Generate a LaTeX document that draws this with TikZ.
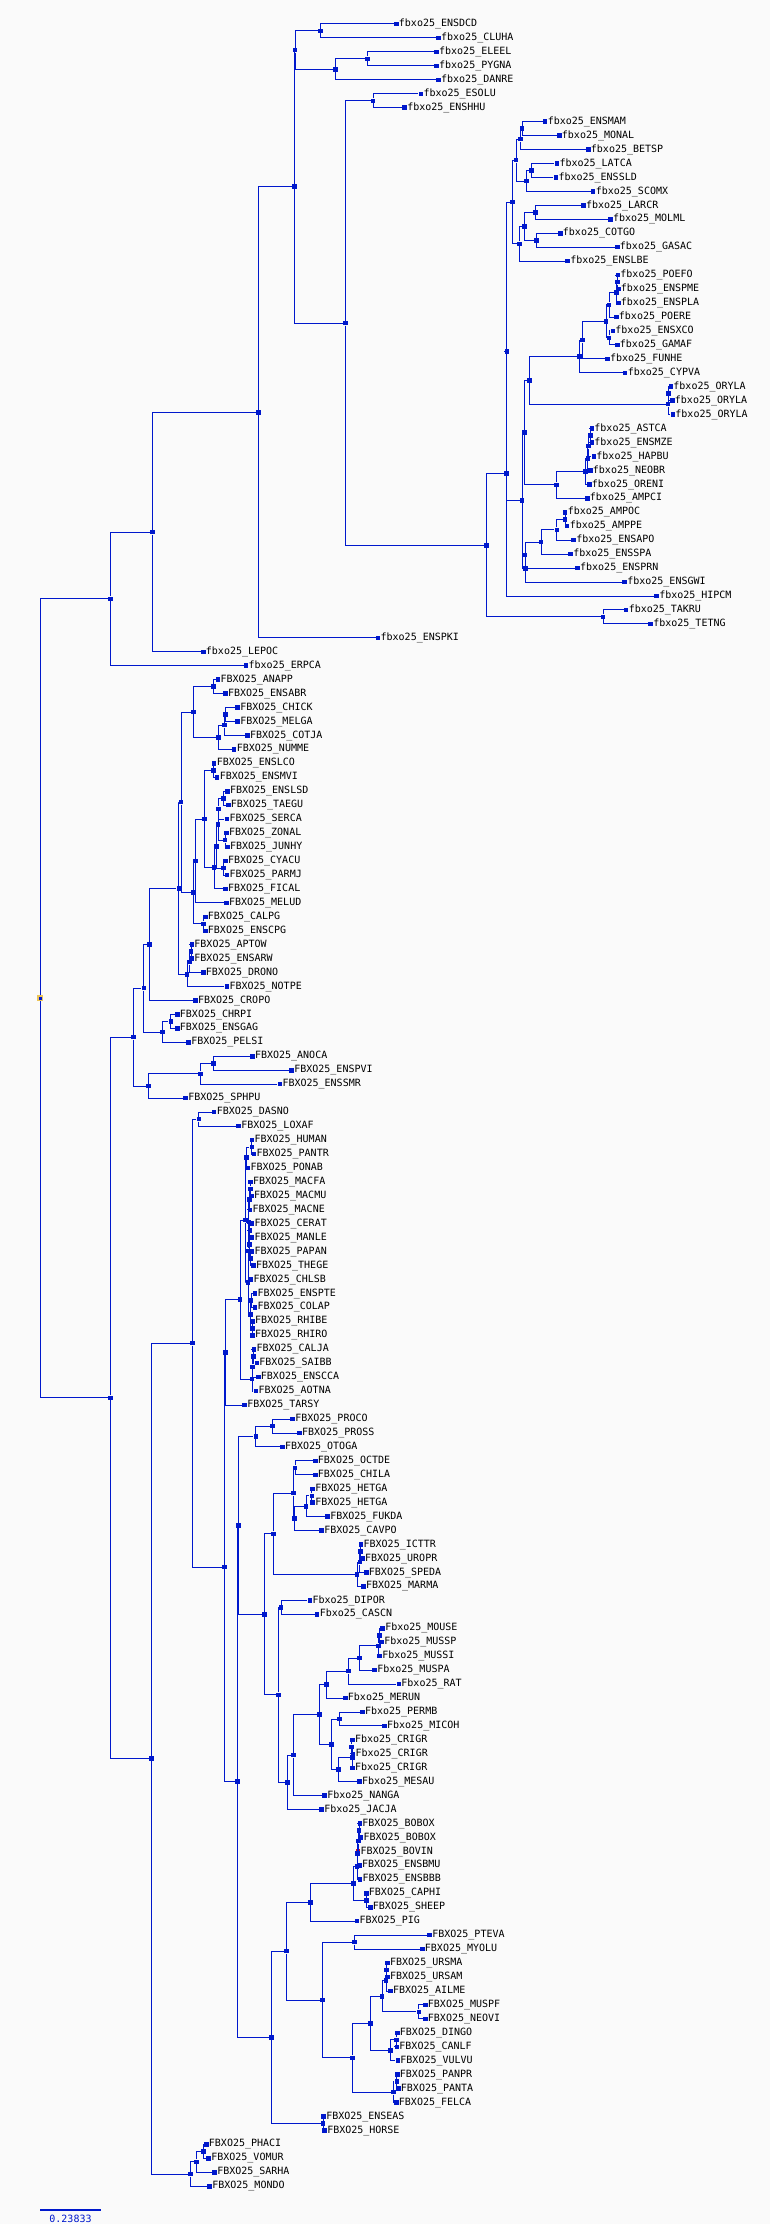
\documentclass[tikz,border=0pt]{standalone}
\usepackage{fontspec}
\usepackage{tikz}
\newfontfamily\tipfont{DejaVu Sans Mono}
\definecolor{treeblue}{RGB}{0,24,204}
\definecolor{paper}{RGB}{250,250,250}
\definecolor{rootgold}{RGB}{236,196,88}
\definecolor{hitred}{RGB}{240,10,10}
\tikzstyle{vertex}=[rectangle, fill=treeblue, inner sep=0pt, minimum size=4.5pt]
\tikzstyle{tipnode}=[vertex, label distance=4.5pt]
\tikzstyle{branch}=[draw=treeblue, line width=1pt, to path={|- (\tikztotarget) \tikztonodes}]
\newcommand{\vertex}{\node[vertex]}
\newcommand{\tipnode}{\node[tipnode]}

\begin{document}
\begin{tikzpicture}[x=1pt, y=-1pt, every edge/.style=branch,
    every label/.style={font=\tipfont, inner sep=0pt}]
\fill[paper] (0,0) rectangle (770,2224);
\useasboundingbox (0,0) rectangle (770,2224);

% fish and early branches
\tipnode (ensdcd) at (396.3,24.0) [label=right:fbxo25\_ENSDCD]{};
\tipnode (cluha) at (438.5,38.0) [label=right:fbxo25\_CLUHA]{};
\tipnode (eleel) at (436.5,51.9) [label=right:fbxo25\_ELEEL]{};
\tipnode (pygna) at (436.5,65.9) [label=right:fbxo25\_PYGNA]{};
\tipnode (danre) at (438.5,79.8) [label=right:fbxo25\_DANRE]{};
\tipnode (esolu) at (420.9,93.8) [label=right:fbxo25\_ESOLU]{};
\tipnode (enshhu) at (404.6,107.7) [label=right:fbxo25\_ENSHHU]{};
\tipnode (ensmam) at (545.1,121.7) [label=right:fbxo25\_ENSMAM]{};
\tipnode (monal) at (559.3,135.6) [label=right:fbxo25\_MONAL]{};
\tipnode (betsp) at (588.3,149.6) [label=right:fbxo25\_BETSP]{};
\tipnode (latca) at (556.9,163.5) [label=right:fbxo25\_LATCA]{};
\tipnode (enssld) at (555.9,177.5) [label=right:fbxo25\_ENSSLD]{};
\tipnode (scomx) at (593.2,191.4) [label=right:fbxo25\_SCOMX]{};
\tipnode (larcr) at (583.4,205.4) [label=right:fbxo25\_LARCR]{};
\tipnode (molml) at (610.4,219.3) [label=right:fbxo25\_MOLML]{};
\tipnode (cotgo) at (560.3,233.3) [label=right:fbxo25\_COTGO]{};
\tipnode (gasac) at (617.3,247.2) [label=right:fbxo25\_GASAC]{};
\tipnode (enslbe) at (567.7,261.2) [label=right:fbxo25\_ENSLBE]{};
\tipnode (poefo) at (617.8,275.1) [label=right:fbxo25\_POEFO]{};
\tipnode (enspme) at (618.3,289.1) [label=right:fbxo25\_ENSPME]{};
\tipnode (enspla) at (618.3,303.0) [label=right:fbxo25\_ENSPLA]{};
\tipnode (poere) at (616.3,317.0) [label=right:fbxo25\_POERE]{};
\tipnode (ensxco) at (612.8,330.9) [label=right:fbxo25\_ENSXCO]{};
\tipnode (gamaf) at (617.3,344.9) [label=right:fbxo25\_GAMAF]{};
\tipnode (funhe) at (607.5,358.8) [label=right:fbxo25\_FUNHE]{};
\tipnode (cypva) at (625.2,372.8) [label=right:fbxo25\_CYPVA]{};
\tipnode (oryla1) at (670.8,386.7) [label=right:fbxo25\_ORYLA]{};
\tipnode (oryla2) at (672.3,400.7) [label=right:fbxo25\_ORYLA]{};
\tipnode (oryla3) at (672.8,414.6) [label=right:fbxo25\_ORYLA]{};
\tipnode (astca) at (591.8,428.6) [label=right:fbxo25\_ASTCA]{};
\tipnode (ensmze) at (591.8,442.5) [label=right:fbxo25\_ENSMZE]{};
\tipnode (hapbu) at (593.8,456.5) [label=right:fbxo25\_HAPBU]{};
\tipnode (neobr) at (590.3,470.4) [label=right:fbxo25\_NEOBR]{};
\tipnode (oreni) at (589.3,484.4) [label=right:fbxo25\_ORENI]{};
\tipnode (ampci) at (587.3,498.3) [label=right:fbxo25\_AMPCI]{};
\tipnode (ampoc) at (565.2,512.3) [label=right:fbxo25\_AMPOC]{};
\tipnode (amppe) at (567.2,526.2) [label=right:fbxo25\_AMPPE]{};
\tipnode (ensapo) at (573.6,540.2) [label=right:fbxo25\_ENSAPO]{};
\tipnode (ensspa) at (570.6,554.1) [label=right:fbxo25\_ENSSPA]{};
\tipnode (ensprn) at (577.5,568.1) [label=right:fbxo25\_ENSPRN]{};
\tipnode (ensgwi) at (624.7,582.0) [label=right:fbxo25\_ENSGWI]{};
\tipnode (hipcm) at (656.6,596.0) [label=right:fbxo25\_HIPCM]{};
\tipnode (takru) at (626.1,609.9) [label=right:fbxo25\_TAKRU]{};
\tipnode (tetng) at (650.7,623.9) [label=right:fbxo25\_TETNG]{};
\tipnode (enspki) at (378.0,637.8) [label=right:fbxo25\_ENSPKI]{};
\tipnode (lepoc) at (203.3,651.8) [label=right:fbxo25\_LEPOC]{};
\tipnode (erpca) at (246.0,665.7) [label=right:fbxo25\_ERPCA]{};

\vertex (a1) at (320.7,31.0) {};
\vertex (a3) at (367.3,58.9) {};
\vertex (a2) at (335.4,69.4) {};
\vertex (p1) at (295.1,50.2) {};
\vertex (b1) at (373.2,100.8) {};
\vertex (e2) at (522.0,128.7) {};
\vertex (e1) at (520.5,139.2) {};
\vertex (e4) at (531.4,170.5) {};
\vertex (e3) at (526.5,181.0) {};
\vertex (d2) at (516.1,160.1) {};
\vertex (f2) at (535.3,212.4) {};
\vertex (f3) at (536.3,240.3) {};
\vertex (f1) at (524.5,226.4) {};
\vertex (d3) at (519.6,243.8) {};
\vertex (d1) at (512.7,202.0) {};
\vertex (n7) at (617.3,282.1) {};
\vertex (n6) at (616.3,292.6) {};
\vertex (n4) at (609.0,304.8) {};
\vertex (n5) at (609.0,337.9) {};
\vertex (n3) at (606.0,321.4) {};
\vertex (n2) at (582.5,340.1) {};
\vertex (n1) at (579.5,356.5) {};
\vertex (o2) at (668.6,393.7) {};
\vertex (o1) at (668.0,404.2) {};
\vertex (k1) at (529.4,380.4) {};
\vertex (m4) at (590.3,435.6) {};
\vertex (m3) at (588.3,446.1) {};
\vertex (m2) at (587.8,458.3) {};
\vertex (m1) at (585.3,471.4) {};
\vertex (k2) at (556.4,484.9) {};
\vertex (g1) at (524.5,432.7) {};
\vertex (h0) at (565.2,519.3) {};
\vertex (h1a) at (556.9,529.8) {};
\vertex (h1) at (541.2,542.0) {};
\vertex (h2) at (525.0,555.1) {};
\vertex (h3) at (525.5,568.6) {};
\vertex (d4) at (522.0,500.7) {};
\vertex (c) at (506.8,351.4) {};
\vertex (b3) at (506.3,473.7) {};
\vertex (tt) at (603.0,616.9) {};
\vertex (b2) at (486.6,545.3) {};
\vertex (B) at (345.3,323.1) {};
\vertex (p0) at (294.6,186.7) {};
\vertex (q) at (258.3,412.3) {};
\vertex (r) at (152.7,532.1) {};
\vertex (s) at (110.5,598.9) {};

% sauropsids
\tipnode (anapp) at (218.0,679.7) [label=right:FBXO25\_ANAPP]{};
\tipnode (ensabr) at (225.4,693.6) [label=right:FBXO25\_ENSABR]{};
\tipnode (chick) at (237.7,707.6) [label=right:FBXO25\_CHICK]{};
\tipnode (melga) at (237.7,721.5) [label=right:FBXO25\_MELGA]{};
\tipnode (cotja) at (247.5,735.5) [label=right:FBXO25\_COTJA]{};
\tipnode (numme) at (234.2,749.4) [label=right:FBXO25\_NUMME]{};
\tipnode (enslco) at (214.1,763.4) [label=right:FBXO25\_ENSLCO]{};
\tipnode (ensmvi) at (217.1,777.3) [label=right:FBXO25\_ENSMVI]{};
\tipnode (enslsd) at (227.4,791.3) [label=right:FBXO25\_ENSLSD]{};
\tipnode (taegu) at (228.3,805.2) [label=right:FBXO25\_TAEGU]{};
\tipnode (serca) at (226.9,819.2) [label=right:FBXO25\_SERCA]{};
\tipnode (zonal) at (226.4,833.1) [label=right:FBXO25\_ZONAL]{};
\tipnode (junhy) at (227.4,847.1) [label=right:FBXO25\_JUNHY]{};
\tipnode (cyacu) at (225.4,861.0) [label=right:FBXO25\_CYACU]{};
\tipnode (parmj) at (226.9,875.0) [label=right:FBXO25\_PARMJ]{};
\tipnode (fical) at (225.4,888.9) [label=right:FBXO25\_FICAL]{};
\tipnode (melud) at (226.4,902.9) [label=right:FBXO25\_MELUD]{};
\tipnode (calpg) at (205.3,916.8) [label=right:FBXO25\_CALPG]{};
\tipnode (enscpg) at (205.3,930.8) [label=right:FBXO25\_ENSCPG]{};
\tipnode (aptow) at (191.8,944.7) [label=right:FBXO25\_APTOW]{};
\tipnode (ensarw) at (191.8,958.7) [label=right:FBXO25\_ENSARW]{};
\tipnode (drono) at (203.3,972.6) [label=right:FBXO25\_DRONO]{};
\tipnode (notpe) at (226.9,986.6) [label=right:FBXO25\_NOTPE]{};
\tipnode (cropo) at (195.4,1000.5) [label=right:FBXO25\_CROPO]{};
\tipnode (chrpi) at (177.3,1014.5) [label=right:FBXO25\_CHRPI]{};
\tipnode (ensgag) at (177.3,1028.4) [label=right:FBXO25\_ENSGAG]{};
\tipnode (pelsi) at (188.6,1042.4) [label=right:FBXO25\_PELSI]{};
\tipnode (anoca) at (252.4,1056.3) [label=right:FBXO25\_ANOCA]{};
\tipnode (enspvi) at (291.7,1070.3) [label=right:FBXO25\_ENSPVI]{};
\tipnode (enssmr) at (279.9,1084.2) [label=right:FBXO25\_ENSSMR]{};
\tipnode (sphpu) at (185.6,1098.2) [label=right:FBXO25\_SPHPU]{};

\vertex (bA) at (213.6,686.7) {};
\vertex (bC) at (225.4,714.6) {};
\vertex (bD) at (224.4,725.1) {};
\vertex (bE) at (218.5,737.3) {};
\vertex (bG1) at (193.5,712.0) {};
\vertex (bF) at (213.6,770.4) {};
\vertex (bH) at (223.5,798.3) {};
\vertex (bI) at (218.5,808.8) {};
\vertex (bJ) at (225.0,840.1) {};
\vertex (bK) at (218.0,824.5) {};
\vertex (bL) at (223.5,868.0) {};
\vertex (bM) at (216.6,846.3) {};
\vertex (bN) at (214.1,867.6) {};
\vertex (bO) at (204.3,819.0) {};
\vertex (bP) at (195.5,861.0) {};
\vertex (bQ) at (203.3,923.8) {};
\vertex (bG2) at (193.5,892.4) {};
\vertex (b1n) at (181.2,802.2) {};
\vertex (bR) at (191.0,951.7) {};
\vertex (bS) at (189.6,962.2) {};
\vertex (bT) at (187.1,974.4) {};
\vertex (b0n) at (178.8,888.3) {};
\vertex (bU) at (149.3,944.4) {};
\vertex (tu1) at (170.9,1021.5) {};
\vertex (tu2) at (162.5,1032.0) {};
\vertex (arch) at (143.9,988.2) {};
\vertex (sq1) at (213.6,1063.3) {};
\vertex (sq2) at (200.4,1073.8) {};
\vertex (sq3) at (148.3,1086.0) {};
\vertex (saur) at (133.6,1037.1) {};

% mammals
\tipnode (dasno) at (214.1,1112.1) [label=right:FBXO25\_DASNO]{};
\tipnode (loxaf) at (238.7,1126.1) [label=right:FBXO25\_LOXAF]{};
\tipnode (human) at (251.9,1140.0) [label=right:FBXO25\_HUMAN]{};
\tipnode (pantr) at (253.9,1154.0) [label=right:FBXO25\_PANTR]{};
\tipnode (ponab) at (248.0,1167.9) [label=right:FBXO25\_PONAB]{};
\tipnode (macfa) at (250.4,1181.9) [label=right:FBXO25\_MACFA]{};
\tipnode (macmu) at (251.4,1195.8) [label=right:FBXO25\_MACMU]{};
\tipnode (macne) at (249.9,1209.8) [label=right:FBXO25\_MACNE]{};
\tipnode (cerat) at (251.9,1223.7) [label=right:FBXO25\_CERAT]{};
\tipnode (manle) at (251.9,1237.7) [label=right:FBXO25\_MANLE]{};
\tipnode (papan) at (251.9,1251.6) [label=right:FBXO25\_PAPAN]{};
\tipnode (thege) at (253.4,1265.6) [label=right:FBXO25\_THEGE]{};
\tipnode (chlsb) at (251.0,1279.5) [label=right:FBXO25\_CHLSB]{};
\tipnode (enspte) at (255.0,1293.5) [label=right:FBXO25\_ENSPTE]{};
\tipnode (colap) at (255.0,1307.4) [label=right:FBXO25\_COLAP]{};
\tipnode (rhibe) at (252.5,1321.4) [label=right:FBXO25\_RHIBE]{};
\tipnode (rhiro) at (252.5,1335.3) [label=right:FBXO25\_RHIRO]{};
\tipnode (calja) at (253.9,1349.3) [label=right:FBXO25\_CALJA]{};
\tipnode (saibb) at (256.8,1363.2) [label=right:FBXO25\_SAIBB]{};
\tipnode (ensscca) at (258.3,1377.2) [label=right:FBXO25\_ENSCCA]{};
\tipnode (aotna) at (255.9,1391.1) [label=right:FBXO25\_AOTNA]{};
\tipnode (tarsy) at (244.6,1405.1) [label=right:FBXO25\_TARSY]{};
\tipnode (proco) at (292.7,1419.0) [label=right:FBXO25\_PROCO]{};
\tipnode (pross) at (299.5,1433.0) [label=right:FBXO25\_PROSS]{};
\tipnode (otoga) at (282.4,1446.9) [label=right:FBXO25\_OTOGA]{};
\tipnode (octde) at (315.3,1460.9) [label=right:FBXO25\_OCTDE]{};
\tipnode (chila) at (315.3,1474.8) [label=right:FBXO25\_CHILA]{};
\tipnode (hetga1) at (312.6,1488.8) [label=right:FBXO25\_HETGA]{};
\tipnode (hetga2) at (312.6,1502.7) [label=right:FBXO25\_HETGA]{};
\tipnode (fukda) at (327.6,1516.7) [label=right:FBXO25\_FUKDA]{};
\tipnode (cavpo) at (321.7,1530.6) [label=right:FBXO25\_CAVPO]{};
\tipnode (icttr) at (361.0,1544.6) [label=right:FBXO25\_ICTTR]{};
\tipnode (uropr) at (362.4,1558.5) [label=right:FBXO25\_UROPR]{};
\tipnode (speda) at (366.3,1572.5) [label=right:FBXO25\_SPEDA]{};
\tipnode (marma) at (363.4,1586.4) [label=right:FBXO25\_MARMA]{};
\tipnode (dipor) at (309.9,1600.4) [label=right:Fbxo25\_DIPOR]{};
\tipnode (cascn) at (317.2,1614.3) [label=right:Fbxo25\_CASCN]{};
\tipnode (mouse) at (382.6,1628.3) [label=right:Fbxo25\_MOUSE]{};
\tipnode (mussp) at (381.6,1642.2) [label=right:Fbxo25\_MUSSP]{};
\tipnode (mussi) at (379.6,1656.2) [label=right:Fbxo25\_MUSSI]{};
\tipnode (muspa) at (374.7,1670.1) [label=right:Fbxo25\_MUSPA]{};
\tipnode (rat) at (398.8,1684.1) [label=right:Fbxo25\_RAT]{};
\tipnode (merun) at (345.3,1698.0) [label=right:Fbxo25\_MERUN]{};
\tipnode (permb) at (362.4,1712.0) [label=right:Fbxo25\_PERMB]{};
\tipnode (micoh) at (384.5,1725.9) [label=right:Fbxo25\_MICOH]{};
\tipnode (crigr1) at (352.4,1739.9) [label=right:Fbxo25\_CRIGR]{};
\tipnode (crigr2) at (352.9,1753.8) [label=right:Fbxo25\_CRIGR]{};
\tipnode (crigr3) at (352.4,1767.8) [label=right:Fbxo25\_CRIGR]{};
\tipnode (mesau) at (359.5,1781.7) [label=right:Fbxo25\_MESAU]{};
\tipnode (nanga) at (324.6,1795.7) [label=right:Fbxo25\_NANGA]{};
\tipnode (jacja) at (321.7,1809.6) [label=right:Fbxo25\_JACJA]{};
\tipnode (bobox1) at (359.8,1823.6) [label=right:FBXO25\_BOBOX]{};
\tipnode (bobox2) at (361.0,1837.5) [label=right:FBXO25\_BOBOX]{};
\tipnode (bovin) at (358.0,1851.5) [fill=hitred, label=right:FBXO25\_BOVIN]{};
\tipnode (ensbmu) at (359.5,1865.4) [label=right:FBXO25\_ENSBMU]{};
\tipnode (ensbbb) at (360.0,1879.4) [label=right:FBXO25\_ENSBBB]{};
\tipnode (caphi) at (366.3,1893.3) [label=right:FBXO25\_CAPHI]{};
\tipnode (sheep) at (370.3,1907.3) [label=right:FBXO25\_SHEEP]{};
\tipnode (pig) at (357.0,1921.2) [label=right:FBXO25\_PIG]{};
\tipnode (pteva) at (429.7,1935.2) [label=right:FBXO25\_PTEVA]{};
\tipnode (myolu) at (422.3,1949.1) [label=right:FBXO25\_MYOLU]{};
\tipnode (ursma) at (387.5,1963.1) [label=right:FBXO25\_URSMA]{};
\tipnode (ursam) at (387.5,1977.0) [label=right:FBXO25\_URSAM]{};
\tipnode (ailme) at (390.4,1991.0) [label=right:FBXO25\_AILME]{};
\tipnode (muspf) at (425.3,2004.9) [label=right:FBXO25\_MUSPF]{};
\tipnode (neovi) at (425.3,2018.9) [label=right:FBXO25\_NEOVI]{};
\tipnode (dingo) at (397.3,2032.8) [label=right:FBXO25\_DINGO]{};
\tipnode (canlf) at (396.8,2046.8) [label=right:FBXO25\_CANLF]{};
\tipnode (vulvu) at (397.8,2060.7) [label=right:FBXO25\_VULVU]{};
\tipnode (panpr) at (397.3,2074.7) [label=right:FBXO25\_PANPR]{};
\tipnode (panta) at (398.3,2088.6) [label=right:FBXO25\_PANTA]{};
\tipnode (felca) at (396.3,2102.6) [label=right:FBXO25\_FELCA]{};
\tipnode (enseas) at (323.6,2116.5) [label=right:FBXO25\_ENSEAS]{};
\tipnode (horse) at (324.6,2130.5) [label=right:FBXO25\_HORSE]{};
\tipnode (phaci) at (206.3,2144.4) [label=right:FBXO25\_PHACI]{};
\tipnode (vomur) at (208.7,2158.4) [label=right:FBXO25\_VOMUR]{};
\tipnode (sarha) at (214.6,2172.3) [label=right:FBXO25\_SARHA]{};
\tipnode (mondo) at (209.7,2186.3) [label=right:FBXO25\_MONDO]{};

\vertex (afro) at (198.9,1119.1) {};
\vertex (hp) at (251.9,1147.0) {};
\vertex (hom) at (246.5,1157.5) {};
\vertex (mcq) at (250.4,1188.9) {};
\vertex (mac) at (249.4,1199.4) {};
\vertex (cema) at (249.9,1230.7) {};
\vertex (pth) at (250.4,1258.6) {};
\vertex (cmpt) at (249.4,1244.7) {};
\vertex (pap) at (248.9,1222.1) {};
\vertex (cerc) at (248.4,1250.8) {};
\vertex (colA) at (251.0,1300.5) {};
\vertex (colB) at (252.5,1328.4) {};
\vertex (col) at (250.5,1314.5) {};
\vertex (owm) at (248.0,1282.7) {};
\vertex (cat) at (245.6,1220.1) {};
\vertex (nw1) at (253.4,1356.3) {};
\vertex (nw2) at (252.4,1366.8) {};
\vertex (nwm) at (252.0,1379.0) {};
\vertex (prim) at (240.2,1299.6) {};
\vertex (primt) at (225.4,1352.4) {};
\vertex (st1) at (272.6,1426.0) {};
\vertex (st2) at (255.9,1436.5) {};
\vertex (hy1) at (295.2,1467.9) {};
\vertex (hy2) at (311.8,1495.8) {};
\vertex (hy3) at (306.0,1506.3) {};
\vertex (hy4) at (294.7,1518.5) {};
\vertex (hy5) at (293.7,1493.2) {};
\vertex (sc1) at (360.4,1551.6) {};
\vertex (sc2) at (359.9,1562.1) {};
\vertex (sc3) at (357.0,1574.3) {};
\vertex (gu) at (273.5,1533.8) {};
\vertex (ca1) at (281.0,1607.4) {};
\vertex (mu1) at (379.3,1635.3) {};
\vertex (mu2) at (378.6,1645.8) {};
\vertex (mu3) at (359.5,1658.0) {};
\vertex (mu4) at (348.7,1671.1) {};
\vertex (mu5) at (326.6,1684.6) {};
\vertex (cr1) at (339.3,1719.0) {};
\vertex (cr2) at (351.7,1746.9) {};
\vertex (cr3) at (352.6,1757.4) {};
\vertex (cr4) at (338.3,1769.6) {};
\vertex (cr5) at (331.5,1744.3) {};
\vertex (mr1) at (319.7,1714.5) {};
\vertex (mr2) at (293.7,1755.1) {};
\vertex (mr3) at (287.3,1782.4) {};
\vertex (gd) at (278.4,1694.9) {};
\vertex (gl) at (264.7,1614.4) {};
\vertex (ea) at (238.7,1525.5) {};
\vertex (bo1) at (359.1,1830.6) {};
\vertex (bo2) at (358.6,1841.1) {};
\vertex (bo3) at (357.5,1853.3) {};
\vertex (bo4) at (357.0,1866.4) {};
\vertex (ov) at (366.3,1900.3) {};
\vertex (ru) at (353.6,1883.4) {};
\vertex (ce) at (310.4,1902.3) {};
\vertex (ch) at (354.6,1942.2) {};
\vertex (ur1) at (386.5,1970.1) {};
\vertex (ur2) at (386.0,1980.6) {};
\vertex (mt) at (418.9,2011.9) {};
\vertex (ar) at (382.1,1996.3) {};
\vertex (cn1) at (396.3,2039.8) {};
\vertex (cn2) at (390.4,2050.3) {};
\vertex (cf) at (370.3,2023.3) {};
\vertex (fe1) at (396.8,2081.7) {};
\vertex (fe2) at (393.3,2092.2) {};
\vertex (carn) at (352.6,2057.8) {};
\vertex (sc) at (322.6,2000.0) {};
\vertex (la1) at (286.3,1951.2) {};
\vertex (eq) at (323.1,2123.5) {};
\vertex (lau) at (271.6,2037.4) {};
\vertex (bor2) at (237.7,1781.5) {};
\vertex (bor) at (224.4,1567.0) {};
\vertex (eu) at (192.5,1343.1) {};
\vertex (ma1) at (203.3,2151.4) {};
\vertex (ma2) at (196.5,2161.9) {};
\vertex (mar) at (190.6,2174.1) {};
\vertex (mam) at (151.3,1758.6) {};
\vertex (amn) at (110.5,1397.9) {};
\vertex (root) at (40.3,998.4) [draw=rootgold, line width=1.6pt]{};

\path
    (root) edge (s)
    (root) edge (amn)
    (s) edge (r)
    (s) edge (erpca)
    (r) edge (q)
    (r) edge (lepoc)
    (q) edge (p0)
    (q) edge (enspki)
    (p0) edge (p1)
    (p0) edge (B)
    (p1) edge (a1)
    (p1) edge (a2)
    (a1) edge (ensdcd)
    (a1) edge (cluha)
    (a2) edge (a3)
    (a2) edge (danre)
    (a3) edge (eleel)
    (a3) edge (pygna)
    (B) edge (b1)
    (B) edge (b2)
    (b1) edge (esolu)
    (b1) edge (enshhu)
    (b2) edge (b3)
    (b2) edge (tt)
    (tt) edge (takru)
    (tt) edge (tetng)
    (b3) edge (c)
    (b3) edge (hipcm)
    (c) edge (d1)
    (c) edge (d4)
    (d1) edge (d2)
    (d1) edge (d3)
    (d2) edge (e1)
    (d2) edge (e3)
    (e1) edge (e2)
    (e1) edge (betsp)
    (e2) edge (ensmam)
    (e2) edge (monal)
    (e3) edge (e4)
    (e3) edge (scomx)
    (e4) edge (latca)
    (e4) edge (enssld)
    (d3) edge (f1)
    (d3) edge (enslbe)
    (f1) edge (f2)
    (f1) edge (f3)
    (f2) edge (larcr)
    (f2) edge (molml)
    (f3) edge (cotgo)
    (f3) edge (gasac)
    (d4) edge (g1)
    (d4) edge (h3)
    (g1) edge (k1)
    (g1) edge (k2)
    (k1) edge (n1)
    (k1) edge (o1)
    (n1) edge (n2)
    (n1) edge (cypva)
    (n2) edge (n3)
    (n2) edge (funhe)
    (n3) edge (n4)
    (n3) edge (n5)
    (n4) edge (n6)
    (n4) edge (poere)
    (n6) edge (n7)
    (n6) edge (enspla)
    (n7) edge (poefo)
    (n7) edge (enspme)
    (n5) edge (ensxco)
    (n5) edge (gamaf)
    (o1) edge (o2)
    (o1) edge (oryla3)
    (o2) edge (oryla1)
    (o2) edge (oryla2)
    (k2) edge (m1)
    (k2) edge (ampci)
    (m1) edge (m2)
    (m1) edge (oreni)
    (m2) edge (m3)
    (m2) edge (neobr)
    (m3) edge (m4)
    (m3) edge (hapbu)
    (m4) edge (astca)
    (m4) edge (ensmze)
    (h3) edge (h2)
    (h3) edge (ensgwi)
    (h2) edge (h1)
    (h2) edge (ensprn)
    (h1) edge (h1a)
    (h1) edge (ensspa)
    (h1a) edge (h0)
    (h1a) edge (ensapo)
    (h0) edge (ampoc)
    (h0) edge (amppe)
;
\path
    (amn) edge (saur)
    (amn) edge (mam)
    (saur) edge (arch)
    (saur) edge (sq3)
    (arch) edge (bU)
    (arch) edge (tu2)
    (bU) edge (b0n)
    (bU) edge (cropo)
    (b0n) edge (b1n)
    (b0n) edge (bT)
    (b1n) edge (bG1)
    (b1n) edge (bG2)
    (bG1) edge (bA)
    (bG1) edge (bE)
    (bA) edge (anapp)
    (bA) edge (ensabr)
    (bE) edge (bD)
    (bE) edge (numme)
    (bD) edge (bC)
    (bD) edge (cotja)
    (bC) edge (chick)
    (bC) edge (melga)
    (bG2) edge (bP)
    (bG2) edge (bQ)
    (bQ) edge (calpg)
    (bQ) edge (enscpg)
    (bP) edge (bO)
    (bP) edge (melud)
    (bO) edge (bF)
    (bO) edge (bN)
    (bF) edge (enslco)
    (bF) edge (ensmvi)
    (bN) edge (bM)
    (bN) edge (fical)
    (bM) edge (bK)
    (bM) edge (bL)
    (bK) edge (bI)
    (bK) edge (bJ)
    (bI) edge (bH)
    (bI) edge (serca)
    (bH) edge (enslsd)
    (bH) edge (taegu)
    (bJ) edge (zonal)
    (bJ) edge (junhy)
    (bL) edge (cyacu)
    (bL) edge (parmj)
    (bT) edge (bS)
    (bT) edge (notpe)
    (bS) edge (bR)
    (bS) edge (drono)
    (bR) edge (aptow)
    (bR) edge (ensarw)
    (tu2) edge (tu1)
    (tu2) edge (pelsi)
    (tu1) edge (chrpi)
    (tu1) edge (ensgag)
    (sq3) edge (sq2)
    (sq3) edge (sphpu)
    (sq2) edge (sq1)
    (sq2) edge (enssmr)
    (sq1) edge (anoca)
    (sq1) edge (enspvi)
;
\path
    (mam) edge (eu)
    (mam) edge (mar)
    (mar) edge (ma2)
    (mar) edge (mondo)
    (ma2) edge (ma1)
    (ma2) edge (sarha)
    (ma1) edge (phaci)
    (ma1) edge (vomur)
    (eu) edge (afro)
    (eu) edge (bor)
    (afro) edge (dasno)
    (afro) edge (loxaf)
    (bor) edge (primt)
    (bor) edge (bor2)
    (primt) edge (prim)
    (primt) edge (tarsy)
    (prim) edge (cat)
    (prim) edge (nwm)
    (cat) edge (hom)
    (cat) edge (owm)
    (hom) edge (hp)
    (hom) edge (ponab)
    (hp) edge (human)
    (hp) edge (pantr)
    (owm) edge (cerc)
    (owm) edge (col)
    (cerc) edge (pap)
    (cerc) edge (chlsb)
    (pap) edge (mac)
    (pap) edge (cmpt)
    (mac) edge (mcq)
    (mac) edge (macne)
    (mcq) edge (macfa)
    (mcq) edge (macmu)
    (cmpt) edge (cema)
    (cmpt) edge (pth)
    (cema) edge (cerat)
    (cema) edge (manle)
    (pth) edge (papan)
    (pth) edge (thege)
    (col) edge (colA)
    (col) edge (colB)
    (colA) edge (enspte)
    (colA) edge (colap)
    (colB) edge (rhibe)
    (colB) edge (rhiro)
    (nwm) edge (nw2)
    (nwm) edge (aotna)
    (nw2) edge (nw1)
    (nw2) edge (ensscca)
    (nw1) edge (calja)
    (nw1) edge (saibb)
    (bor2) edge (ea)
    (bor2) edge (lau)
    (ea) edge (st2)
    (ea) edge (gl)
    (st2) edge (st1)
    (st2) edge (otoga)
    (st1) edge (proco)
    (st1) edge (pross)
    (gl) edge (gu)
    (gl) edge (gd)
    (gu) edge (hy5)
    (gu) edge (sc3)
    (hy5) edge (hy1)
    (hy5) edge (hy4)
    (hy1) edge (octde)
    (hy1) edge (chila)
    (hy4) edge (hy3)
    (hy4) edge (cavpo)
    (hy3) edge (hy2)
    (hy3) edge (fukda)
    (hy2) edge (hetga1)
    (hy2) edge (hetga2)
    (sc3) edge (sc2)
    (sc3) edge (marma)
    (sc2) edge (sc1)
    (sc2) edge (speda)
    (sc1) edge (icttr)
    (sc1) edge (uropr)
    (gd) edge (ca1)
    (gd) edge (mr3)
    (ca1) edge (dipor)
    (ca1) edge (cascn)
    (mr3) edge (mr2)
    (mr3) edge (jacja)
    (mr2) edge (mr1)
    (mr2) edge (nanga)
    (mr1) edge (mu5)
    (mr1) edge (cr5)
    (mu5) edge (mu4)
    (mu5) edge (merun)
    (mu4) edge (mu3)
    (mu4) edge (rat)
    (mu3) edge (mu2)
    (mu3) edge (muspa)
    (mu2) edge (mu1)
    (mu2) edge (mussi)
    (mu1) edge (mouse)
    (mu1) edge (mussp)
    (cr5) edge (cr1)
    (cr5) edge (cr4)
    (cr1) edge (permb)
    (cr1) edge (micoh)
    (cr4) edge (cr3)
    (cr4) edge (mesau)
    (cr3) edge (cr2)
    (cr3) edge (crigr3)
    (cr2) edge (crigr1)
    (cr2) edge (crigr2)
    (lau) edge (la1)
    (lau) edge (eq)
    (eq) edge (enseas)
    (eq) edge (horse)
    (la1) edge (ce)
    (la1) edge (sc)
    (ce) edge (ru)
    (ce) edge (pig)
    (ru) edge (bo4)
    (ru) edge (ov)
    (ov) edge (caphi)
    (ov) edge (sheep)
    (bo4) edge (bo3)
    (bo4) edge (ensbbb)
    (bo3) edge (bo2)
    (bo3) edge (ensbmu)
    (bo2) edge (bo1)
    (bo2) edge (bovin)
    (bo1) edge (bobox1)
    (bo1) edge (bobox2)
    (sc) edge (ch)
    (sc) edge (carn)
    (ch) edge (pteva)
    (ch) edge (myolu)
    (carn) edge (cf)
    (carn) edge (fe2)
    (fe2) edge (fe1)
    (fe2) edge (felca)
    (fe1) edge (panpr)
    (fe1) edge (panta)
    (cf) edge (ar)
    (cf) edge (cn2)
    (ar) edge (ur2)
    (ar) edge (mt)
    (ur2) edge (ur1)
    (ur2) edge (ailme)
    (ur1) edge (ursma)
    (ur1) edge (ursam)
    (mt) edge (muspf)
    (mt) edge (neovi)
    (cn2) edge (cn1)
    (cn2) edge (vulvu)
    (cn1) edge (dingo)
    (cn1) edge (canlf)
;

% scale bar
\coordinate (barl) at (40.3,2209.7);
\coordinate (barr) at (100.7,2209.7);
\draw[treeblue, line width=1.7pt] (barl) -- (barr);
\node[text=treeblue, font=\tipfont, inner sep=0pt] (barlabel) at (70.5,2218.5) {0.23833};
\end{tikzpicture}
\end{document}
